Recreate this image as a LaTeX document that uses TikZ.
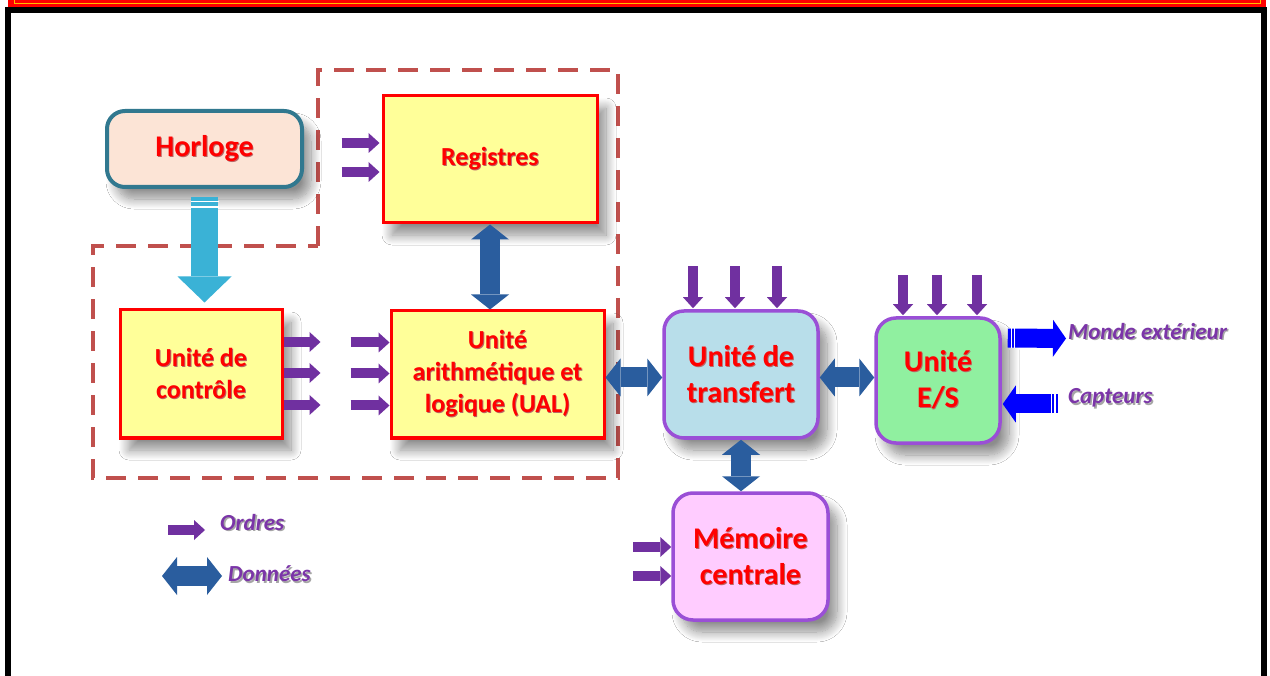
\documentclass[tikz,border=0pt]{standalone}
\usepackage{fontspec}
\setmainfont{Carlito}
\usetikzlibrary{arrows.meta,shadows.blur,calc}
\definecolor{ordcol}{HTML}{7030A0}
\definecolor{datcol}{HTML}{2A5D9E}
\definecolor{boxred}{HTML}{FF0000}
\definecolor{ylw}{HTML}{FFFF99}
\definecolor{dashc}{HTML}{C0504D}
\definecolor{edgep}{HTML}{9A4FD6}
\definecolor{clkfill}{HTML}{FCE4D6}
\definecolor{clkedge}{HTML}{31788F}
\definecolor{clkarrow}{HTML}{3AB2D6}
\definecolor{xferfill}{HTML}{B8DEEA}
\definecolor{iofill}{HTML}{90F0A0}
\definecolor{memfill}{HTML}{FFCCFF}
\definecolor{labcol}{HTML}{7B35A8}
% text with a soft offset shadow
\newcommand\shadtxt[1]{\makebox[0pt][l]{\hspace{1.6pt}\raisebox{-1.8pt}{\color{black!35}#1}}#1}
\newcommand\redtxt[1]{\makebox[0pt][l]{\hspace{0.9pt}\raisebox{-0.9pt}{\color{red!55!black!60!white}#1}}#1}
\begin{document}
\begin{tikzpicture}[x=1pt,y=-1pt,
  shad/.style={blur shadow={shadow xshift=9pt,shadow yshift=-12pt,shadow blur steps=14,shadow opacity=45,shadow blur radius=10pt}},
  ybox/.style={draw=boxred,line width=3pt,fill=ylw,text=boxred,
    font=\bfseries\fontsize{26}{32}\selectfont,align=center,inner sep=0pt,shad},
  pbox/.style={draw=edgep,line width=3.5pt,rounded corners=20pt,text=boxred,
    font=\bfseries\fontsize{30}{36}\selectfont,align=center,inner sep=0pt,shad},
  ord/.style={draw=ordcol,line width=10pt,-{Triangle[length=11pt,width=20pt,line width=0pt]}},
  dat/.style={draw=datcol,line width=20pt,
    {Triangle[length=15pt,width=38pt,line width=0pt]}-{Triangle[length=15pt,width=38pt,line width=0pt]}},
  blu/.style={draw=blue,line width=19pt,-{Triangle[length=13pt,width=37pt,line width=0pt]}},
  lab/.style={text=labcol,font=\bfseries\itshape\fontsize{23}{27}\selectfont,inner sep=0pt},
  stripe/.style={draw=white,line width=1.3pt}
]
\useasboundingbox (0,0) rectangle (1270,676);
\fill[white] (0,0) rectangle (1270,676);

% top banner and frame
\fill[red] (8,0) rectangle (1266,7);
\draw[orange!50!yellow,line width=1pt] (14,-2) rectangle (1260,3.5);
\draw[line width=6pt,line join=miter] (8,700) |- (1264,10) -- (1264,700);

% processor outline
\draw[dashc,line width=4pt,dash pattern=on 20pt off 12pt]
  (318,246) -- (318,70) -- (618,70) -- (618,478) -- (93,478) -- (93,246) -- cycle;

% units
\node[draw=clkedge,line width=4pt,rounded corners=18pt,fill=clkfill,text=boxred,
  font=\bfseries\fontsize{30}{36}\selectfont,minimum width=195pt,minimum height=76pt,shad]
  (clk) at (204.5,149) {\redtxt{Horloge}};
\node[ybox,minimum width=214pt,minimum height=127pt] (reg) at (490,159.5) {\redtxt{Registres}};
\node[ybox,minimum width=162pt,minimum height=128pt] (ctl) at (201,374)
  {\redtxt{Unité de}\\\redtxt{contrôle}};
\node[ybox,minimum width=213pt,minimum height=127pt] (ual) at (497.5,374.5)
  {\redtxt{Unité}\\\redtxt{arithmétique et}\\\redtxt{logique (UAL)}};
\node[pbox,fill=xferfill,minimum width=154pt,minimum height=127pt] (xfer) at (741,374.5)
  {\redtxt{Unité de}\\\redtxt{transfert}};
\node[pbox,fill=iofill,minimum width=124pt,minimum height=125pt] (io) at (938,380.5)
  {\redtxt{Unité}\\\redtxt{E/S}};
\node[pbox,fill=memfill,minimum width=155pt,minimum height=127pt] (mem) at (750.5,556.5)
  {\redtxt{Mémoire}\\\redtxt{centrale}};

% clock signal
\draw[draw=clkarrow,line width=27pt,shorten <=8pt,shorten >=6pt,
  -{Triangle[length=26pt,width=54pt,line width=0pt]}] (clk.south) -- (clk.south |- ctl.north);
\draw[stripe] ($(clk.south)+(-14,12.5)$) -- ++(28,0);
\draw[stripe] ($(clk.south)+(-14,18)$) -- ++(28,0);

% data paths
\draw[dat] (reg.south) -- (reg.south |- ual.north);
\draw[dat] ($(ual.east)+(0,3)$) -- ($(xfer.west)+(0,3)$);
\draw[dat] ($(xfer.east)+(0,3)$) -- ($(io.west)+(0,-3)$);
\draw[dat] (xfer.south) -- (xfer.south |- mem.north);

% orders
\foreach \dy in {-16.5,12.5} \draw[ord] ($(reg.west)+(-40,\dy)$) -- ($(reg.west)+(-2,\dy)$);
\foreach \dy in {-32,-1,31} {
  \draw[ord] ($(ctl.east)+(0,\dy)$) -- ++(37,0);
  \draw[ord] ($(ual.west)+(-39,\dy)$) -- ($(ual.west)+(0,\dy)$);
}
\foreach \dx in {-48,-6,36} \draw[ord] ($(xfer.north)+(\dx,-43)$) -- ($(xfer.north)+(\dx,-1)$);
\foreach \dx in {-35,-1,39} \draw[ord] ($(io.north)+(\dx,-41)$) -- ($(io.north)+(\dx,-1)$);
\foreach \dy in {-9.5,19.5} \draw[ord] ($(mem.west)+(-38,\dy)$) -- ($(mem.west)+(0,\dy)$);

% outside world
\node[lab,anchor=west] (monde) at (1068,332) {\shadtxt{Monde extérieur}};
\node[lab,anchor=west] (capt) at (1068,399) {\shadtxt{Capteurs}};
\draw[blu] ($(io.east)+(6,-42.5)$) -- ($(monde.west)+(-2,6.5)$);
\draw[stripe] ($(io.east)+(9.5,-52.5)$) -- ++(0,20);
\draw[stripe] ($(io.east)+(13,-52.5)$) -- ++(0,20);
\draw[blu] ($(capt.west)+(-10,5)$) -- ($(io.east)+(1,23.5)$);
\draw[stripe] ($(capt.west)+(-16.5,-5)$) -- ++(0,20);
\draw[stripe] ($(capt.west)+(-13,-5)$) -- ++(0,20);

% legend
\node[lab,anchor=west] (lord) at (220,523) {\shadtxt{Ordres}};
\node[lab,anchor=west] (ldat) at (228,575) {\shadtxt{Données}};
\draw[ord] ($(lord.west)+(-52,7)$) -- ++(37,0);
\draw[dat] ($(ldat.west)+(-66,1)$) -- ++(60,0);
\end{tikzpicture}
\end{document}
